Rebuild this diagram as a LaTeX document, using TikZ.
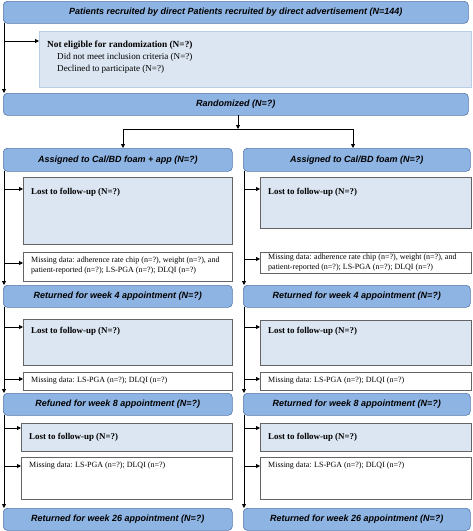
\documentclass[tikz,border=0pt]{standalone}
\usepackage{fontspec}
\setmainfont{Liberation Serif}
\setsansfont{Liberation Sans}
\usetikzlibrary{arrows.meta}
\definecolor{mainblue}{RGB}{142,180,227}
\definecolor{mainedge}{RGB}{85,120,170}
\definecolor{lightblue}{RGB}{220,230,242}
\definecolor{lightedge}{RGB}{185,205,229}
\definecolor{grayedge}{RGB}{100,100,100}
\tikzset{
  boxbase/.style={anchor=north west, inner sep=0pt, line width=0.6pt},
  mainbox/.style={boxbase, draw=mainedge, fill=mainblue, rounded corners=4pt,
    font=\sffamily\bfseries\itshape\fontsize{9}{10}\selectfont},
  lostbox/.style={boxbase, draw=grayedge, fill=lightblue},
  eligbox/.style={boxbase, draw=lightedge, fill=lightblue},
  missbox/.style={boxbase, draw=grayedge, fill=white},
  losttext/.style={anchor=west, inner sep=0pt, font=\bfseries\fontsize{8.9}{10}\selectfont},
  misstext/.style={anchor=north west, inner sep=0pt, align=left, font=\fontsize{8}{9.3}\selectfont},
  eligtext/.style={anchor=base west, inner sep=0pt, font=\fontsize{9.1}{10}\selectfont},
  arr/.style={line width=0.8pt, -{Triangle[length=4pt,width=4pt]}},
  ln/.style={line width=0.8pt},
}
\begin{document}
\begin{tikzpicture}[x=1pt,y=-1pt]
\useasboundingbox (0,0) rectangle (473,531);
% top
\node[mainbox, minimum width=465pt, minimum height=22pt] (top) at (3,1) {Patients recruited by direct Patients recruited by direct advertisement (N=144)};
\node[eligbox, minimum width=432pt, minimum height=56pt] (elig) at (39,31) {};
\node[eligtext, font=\bfseries\fontsize{9.3}{10}\selectfont] (eligt) at (47,47) {Not eligible for randomization (N=?)};
\node[eligtext] (eligt2) at (57,59) {Did not meet inclusion criteria (N=?)};
\node[eligtext] (eligt3) at (57,71) {Declined to participate (N=?)};
\node[mainbox, minimum width=465pt, minimum height=22pt] (rand) at (3,93) {Randomized (N=?)};
\coordinate (v0) at (4,23);
\draw[arr] (v0) -- (v0 |- rand.north);
\coordinate (e0) at (4,41);
\draw[arr] (e0) -- (e0 -| elig.west);
% split
\coordinate (rs) at (238,115);
\coordinate (jc) at (238,129);
\coordinate (jL) at (123,129);
\coordinate (jR) at (353,129);
\draw[arr] (rs) -- (jc);
\draw[ln] (jL) -- (jR);
% assigned
\node[mainbox, minimum width=229pt, minimum height=23pt] (aL) at (3,148) {Assigned to Cal/BD foam + app (N=?)};
\node[mainbox, minimum width=227pt, minimum height=23pt] (aR) at (243,148) {Assigned to Cal/BD foam (N=?)};
\draw[arr] (jL) -- (jL |- aL.north);
\draw[arr] (jR) -- (jR |- aR.north);

\node[lostbox, minimum width=209pt, minimum height=67pt] (l1L) at (23,177) {};
\node[losttext] at (31,192) {Lost to follow-up (N=?)};
\node[lostbox, minimum width=211pt, minimum height=51pt] (l1R) at (260,177) {};
\node[losttext] at (268,192) {Lost to follow-up (N=?)};
\node[missbox, minimum width=209pt, minimum height=29pt] (m1L) at (23,252) {};
\node[misstext] at (31,257) {Missing data: adherence rate chip (n=?), weight (n=?), and\\patient-reported (n=?); LS-PGA (n=?); DLQI (n=?)};
\node[missbox, minimum width=211pt, minimum height=21pt] (m1R) at (260,252) {};
\node[misstext] at (268,254) {Missing data: adherence rate chip (n=?), weight (n=?), and\\patient-reported (n=?); LS-PGA (n=?); DLQI (n=?)};

\node[mainbox, minimum width=229pt, minimum height=22pt] (w4L) at (3,285) {Returned for week 4 appointment (N=?)};
\node[mainbox, minimum width=227pt, minimum height=22pt] (w4R) at (243,285) {Returned for week 4 appointment (N=?)};

\node[lostbox, minimum width=209pt, minimum height=46pt] (l2L) at (23,319) {};
\node[losttext] at (31,331) {Lost to follow-up (N=?)};
\node[lostbox, minimum width=211pt, minimum height=45pt] (l2R) at (260,320) {};
\node[losttext] at (268,331) {Lost to follow-up (N=?)};
\node[missbox, minimum width=209pt, minimum height=18pt] (m2L) at (23,372) {};
\node[misstext] at (31,376.5) {Missing data: LS-PGA (n=?); DLQI (n=?)};
\node[missbox, minimum width=211pt, minimum height=18pt] (m2R) at (260,372) {};
\node[misstext] at (268,376.5) {Missing data: LS-PGA (n=?); DLQI (n=?)};

\node[mainbox, minimum width=229pt, minimum height=22pt] (w8L) at (3,393) {Refuned for week 8 appointment (N=?)};
\node[mainbox, minimum width=227pt, minimum height=22pt] (w8R) at (243,393) {Returned for week 8 appointment (N=?)};

\node[lostbox, minimum width=211pt, minimum height=28pt] (l3L) at (21,423) {};
\node[losttext] at (29,437) {Lost to follow-up (N=?)};
\node[lostbox, minimum width=211pt, minimum height=28pt] (l3R) at (260,423) {};
\node[losttext] at (268,437) {Lost to follow-up (N=?)};
\node[missbox, minimum width=211pt, minimum height=42pt] (m3L) at (21,457) {};
\node[misstext] at (29,462) {Missing data: LS-PGA (n=?); DLQI (n=?)};
\node[missbox, minimum width=211pt, minimum height=42pt] (m3R) at (260,457) {};
\node[misstext] at (268,462) {Missing data: LS-PGA (n=?); DLQI (n=?)};

\node[mainbox, minimum width=229pt, minimum height=22pt] (w26L) at (3,508) {Returned for week 26 appointment (N=?)};
\node[mainbox, minimum width=227pt, minimum height=22pt] (w26R) at (243,508) {Returned for week 26 appointment (N=?)};

% vertical lines
\coordinate (vL1) at (4,171);
\draw[arr] (vL1) -- (vL1 |- w4L.north);
\coordinate (vL2) at (4,307);
\draw[arr] (vL2) -- (vL2 |- w8L.north);
\coordinate (vL3) at (4,415);
\draw[arr] (vL3) -- (vL3 |- w26L.north);
\coordinate (vR1) at (244,171);
\draw[arr] (vR1) -- (vR1 |- w4R.north);
\coordinate (vR2) at (244,307);
\draw[arr] (vR2) -- (vR2 |- w8R.north);
\coordinate (vR3) at (244,415);
\draw[arr] (vR3) -- (vR3 |- w26R.north);
% side arrows
\coordinate (sL1) at (4,189);  \draw[arr] (sL1) -- (sL1 -| l1L.west);
\coordinate (sL2) at (4,263);  \draw[arr] (sL2) -- (sL2 -| m1L.west);
\coordinate (sR1) at (244,189); \draw[arr] (sR1) -- (sR1 -| l1R.west);
\coordinate (sR2) at (244,259); \draw[arr] (sR2) -- (sR2 -| m1R.west);
\coordinate (sL3) at (4,327);  \draw[arr] (sL3) -- (sL3 -| l2L.west);
\coordinate (sL4) at (4,379);  \draw[arr] (sL4) -- (sL4 -| m2L.west);
\coordinate (sR3) at (244,327); \draw[arr] (sR3) -- (sR3 -| l2R.west);
\coordinate (sR4) at (244,379); \draw[arr] (sR4) -- (sR4 -| m2R.west);
\coordinate (sL5) at (4,428);  \draw[arr] (sL5) -- (sL5 -| l3L.west);
\coordinate (sL6) at (4,466);  \draw[arr] (sL6) -- (sL6 -| m3L.west);
\coordinate (sR5) at (244,428); \draw[arr] (sR5) -- (sR5 -| l3R.west);
\coordinate (sR6) at (244,466); \draw[arr] (sR6) -- (sR6 -| m3R.west);
\end{tikzpicture}
\end{document}
